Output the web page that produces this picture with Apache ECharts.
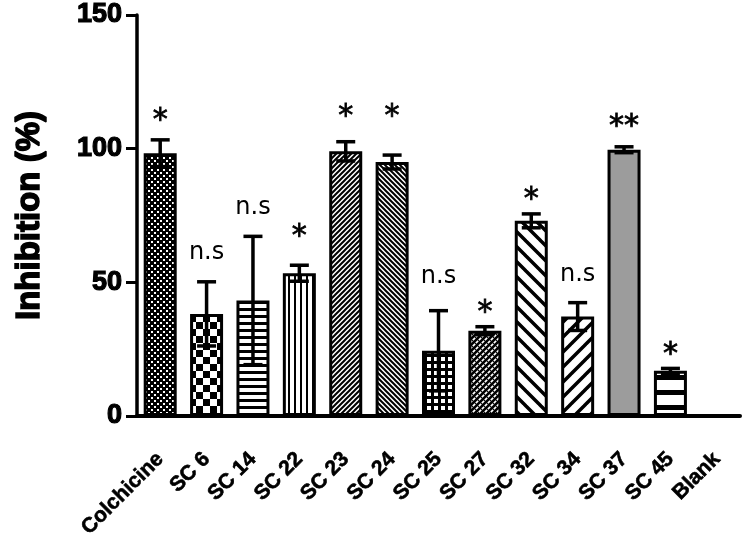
<!DOCTYPE html>
<html><head><meta charset="utf-8">
<script src="https://cdn.jsdelivr.net/npm/echarts@6/dist/echarts.min.js"></script>
<style>html,body{margin:0;padding:0;background:#fff}#c{width:750px;height:536px}</style>
</head><body><div id="c"></div>
<script>
// ---- data ----
const categories = ['Colchicine','SC 6','SC 14','SC 22','SC 23','SC 24','SC 25','SC 27','SC 32','SC 34','SC 37','SC 45','Blank'];
const means  = [98.3, 38.2, 43.2, 53.4, 99, 95, 24.4, 31.9, 73, 37.2, 99.6, 16.9, 0];
const errors = [5, 12, 24, 3, 3.6, 2.6, 15, 1.5, 2.6, 5.2, 1.1, 0.9, 0];
const sigLabels = ['*','n.s','n.s','*','*','*','n.s','*','*','n.s','**','*',''];
const sigLevels = [113.5, 61.2, 78, 70.3, 115.2, 115.2, 52.2, 41.9, 84.2, 52.7, 111.5, 26.2, 0];
const yTicks = [0, 50, 100, 150];

// ---- fill patterns ----
function pat(w, h, draw) {
  const c = document.createElement('canvas');
  c.width = w; c.height = h;
  const ctx = c.getContext('2d');
  ctx.fillStyle = '#fff'; ctx.fillRect(0, 0, w, h);
  ctx.fillStyle = '#000'; ctx.strokeStyle = '#000';
  draw(ctx, w, h);
  return { image: c, repeat: 'repeat' };
}
function diag(ctx, s, lw, dir) {
  ctx.lineWidth = lw; ctx.beginPath();
  for (const k of [-s, 0, s]) {
    if (dir === '/') { ctx.moveTo(k - 1, s + 1); ctx.lineTo(k + s + 1, -1); }
    else { ctx.moveTo(k - 1, -1); ctx.lineTo(k + s + 1, s + 1); }
  }
  ctx.stroke();
}
const patterns = [
  pat(6, 6, (c) => { c.fillRect(0,0,6,6); c.fillStyle='#fff'; c.fillRect(1,1,2,2); c.fillRect(4,4,2,2); }),
  pat(14, 14, (c) => { c.fillRect(0,0,7,7); c.fillRect(7,7,7,7); }),
  pat(7, 7, (c) => { c.fillRect(0,0,7,3); }),
  pat(6, 6, (c) => { c.fillRect(0,0,2,6); }),
  pat(5, 5, (c) => diag(c, 5, 2, '/')),
  pat(5, 5, (c) => diag(c, 5, 2, '\\')),
  pat(7, 7, (c) => { c.fillRect(0,0,7,7); c.fillStyle='#fff'; c.fillRect(0,0,4,4); }),
  pat(6, 6, (c) => { diag(c, 6, 2.6, '/'); diag(c, 6, 1.1, '\\'); }),
  pat(15, 15, (c) => diag(c, 15, 3.5, '\\')),
  pat(15, 15, (c) => diag(c, 15, 3.5, '/')),
  '#9c9c9c',
  pat(15, 15, (c) => { c.fillRect(0,0,15,5); }),
  '#fff'
];

const chart = echarts.init(document.getElementById('c'), null, { renderer: 'canvas' });
chart.setOption({
  animation: false,
  backgroundColor: '#fff',
  grid: { left: 137, right: 10, top: 15, bottom: 120, containLabel: false, outerBoundsMode: 'none' },
  xAxis: {
    type: 'category',
    data: categories,
    axisLine: { lineStyle: { color: '#000', width: 4 } },
    axisTick: { alignWithLabel: true, length: 12, lineStyle: { color: '#000', width: 3 } },
    axisLabel: { interval: 0, rotate: 45, margin: 40, color: '#000', fontSize: 21, fontWeight: 'bold', fontFamily: 'Liberation Sans', textBorderColor: '#000', textBorderWidth: 0.6 }
  },
  yAxis: {
    type: 'value',
    min: yTicks[0], max: yTicks[yTicks.length - 1], interval: yTicks[1] - yTicks[0],
    name: 'Inhibition (%)', nameLocation: 'middle', nameGap: 91,
    nameTextStyle: { color: '#000', fontSize: 33, fontWeight: 'bold', fontFamily: 'Liberation Sans', textBorderColor: '#000', textBorderWidth: 1.5 },
    axisLine: { show: true, lineStyle: { color: '#000', width: 3.5 } },
    axisTick: { show: true, length: 11, lineStyle: { color: '#000', width: 3 } },
    splitLine: { show: false },
    axisLabel: { margin: 15, color: '#000', fontSize: 27, fontWeight: 'bold', fontFamily: 'Liberation Sans', textBorderColor: '#000', textBorderWidth: 1.2 }
  },
  series: [
    {
      type: 'bar',
      barWidth: 33,
      data: means.map((v, i) => ({ value: v, itemStyle: { color: patterns[i] } })),
      itemStyle: { borderColor: '#000', borderWidth: 3 }
    },
    {
      type: 'custom',
      z: 10,
      encode: { x: 0, y: 1 },
      data: categories.map((c, i) => [i, means[i], errors[i], sigLevels[i]]),
      renderItem: function (params, api) {
        const i = api.value(0), m = api.value(1), e = api.value(2), lvl = api.value(3);
        const top = api.coord([i, m + e]);
        const bot = api.coord([i, m - e]);
        const x = top[0], half = 9.5;
        const ls = { stroke: '#000', lineWidth: 3.5 };
        const children = [];
        if (e > 0) {
          children.push({ type: 'line', shape: { x1: x, y1: top[1], x2: x, y2: bot[1] }, style: ls });
          children.push({ type: 'line', shape: { x1: x - half, y1: top[1], x2: x + half, y2: top[1] }, style: ls });
          children.push({ type: 'line', shape: { x1: x - half, y1: bot[1], x2: x + half, y2: bot[1] }, style: ls });
        }
        const lab = sigLabels[params.dataIndex];
        if (lab) {
          const p = api.coord([i, lvl]);
          const star = lab.indexOf('*') >= 0;
          children.push({
            type: 'text',
            style: {
              text: lab, x: x, y: p[1] + (star ? 8.8 : 0),
              align: 'center', verticalAlign: 'middle',
              font: star ? 'normal 30px "DejaVu Sans"' : 'normal 24px "DejaVu Sans"',
              fill: '#000',
              stroke: star ? '#000' : null, lineWidth: star ? 0.8 : 0
            }
          });
        }
        return { type: 'group', children: children };
      }
    }
  ]
});
</script>
</body></html>
